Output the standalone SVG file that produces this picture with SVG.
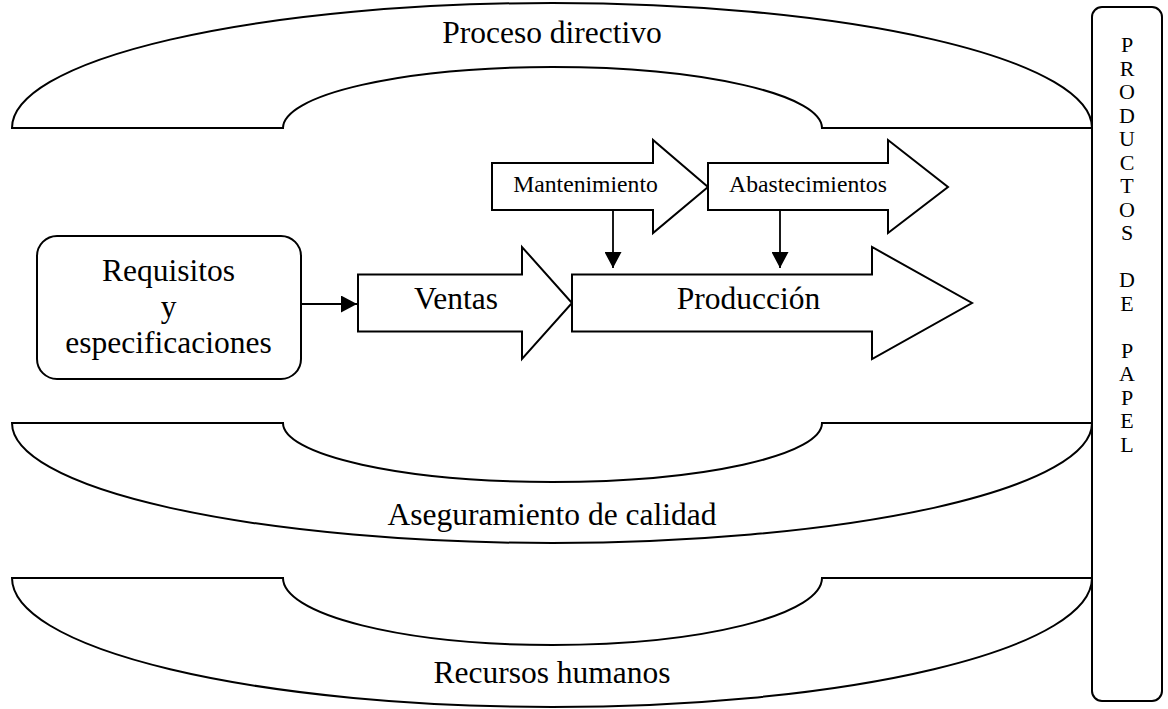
<svg xmlns="http://www.w3.org/2000/svg" width="1168" height="709" viewBox="0 0 1168 709">
<defs>
<style>
.s{fill:#fff;stroke:#000;stroke-width:2}
.t{fill:#000;text-anchor:middle}
.big{font-size:31.5px}
.mid{font-size:23.7px}
.let{font-size:22px}
.c{stroke:#000;stroke-width:1.8;fill:none}
</style>
<marker id="ah" markerUnits="userSpaceOnUse" markerWidth="17" markerHeight="17" viewBox="0 0 17 17" refX="16" refY="8.5" orient="auto">
<path d="M0,0 L16,8.5 L0,17 Z" fill="#000"/>
</marker>
</defs>
<rect width="1168" height="709" fill="#fff"/>
<g font-family="Liberation Serif, Tinos, DejaVu Serif, serif">
<g id="proceso-directivo">
<path class="s" d="M12,128 A540,125 0 0 1 1092,128 L822,128 A269.5,61 0 0 0 283,128 Z"/>
<text class="t big" x="552" y="43">Proceso directivo</text>
</g>
<g id="aseguramiento-calidad">
<path class="s" d="M12,423 A540,120 0 0 0 1092,423 L822,423 A269.5,59 0 0 1 283,423 Z"/>
<text class="t big" x="552" y="525">Aseguramiento de calidad</text>
</g>
<g id="recursos-humanos">
<path class="s" d="M12,578 A540,129 0 0 0 1092,578 L822,578 A269.5,67 0 0 1 283,578 Z"/>
<text class="t big" x="552" y="683">Recursos humanos</text>
</g>
<g id="productos-de-papel">
<rect class="s" x="1092" y="7" width="70" height="694" rx="10" ry="10"/>
<g class="t let">
<text x="1127" y="52">P</text>
<text x="1127" y="75.5">R</text>
<text x="1127" y="99">O</text>
<text x="1127" y="122.5">D</text>
<text x="1127" y="146">U</text>
<text x="1127" y="169.5">C</text>
<text x="1127" y="193">T</text>
<text x="1127" y="216.5">O</text>
<text x="1127" y="240">S</text>
<text x="1127" y="287">D</text>
<text x="1127" y="310.5">E</text>
<text x="1127" y="357.5">P</text>
<text x="1127" y="381">A</text>
<text x="1127" y="404.5">P</text>
<text x="1127" y="428">E</text>
<text x="1127" y="451.5">L</text>
</g>
</g>
<g id="requisitos">
<rect class="s" x="37" y="236" width="264" height="143" rx="20" ry="20"/>
<text class="t big" x="168.5" y="281">Requisitos</text>
<text class="t big" x="168.5" y="317">y</text>
<text class="t big" x="168.5" y="353">especificaciones</text>
</g>
<g id="ventas">
<path class="s" d="M358,274.5 L522,274.5 L522,247 L572,303 L522,359 L522,331.5 L358,331.5 Z"/>
<text class="t big" x="456" y="309">Ventas</text>
</g>
<g id="produccion">
<path class="s" d="M572,274.5 L872,274.5 L872,247 L972,303 L872,359 L872,331.5 L572,331.5 Z"/>
<text class="t big" x="748.5" y="309">Producción</text>
</g>
<g id="mantenimiento">
<path class="s" d="M492,163 L653,163 L653,140 L708,187 L653,233 L653,210 L492,210 Z"/>
<text class="t mid" x="585.5" y="192">Mantenimiento</text>
</g>
<g id="abastecimientos">
<path class="s" d="M708,163 L888,163 L888,140 L948,187 L888,233 L888,210 L708,210 Z"/>
<text class="t mid" x="808" y="192">Abastecimientos</text>
</g>
</g>
<g id="connectors">
<line class="c" x1="301" y1="304" x2="357" y2="304" marker-end="url(#ah)"/>
<line class="c" x1="613" y1="210" x2="613" y2="268" marker-end="url(#ah)"/>
<line class="c" x1="780" y1="210" x2="780" y2="268" marker-end="url(#ah)"/>
</g>
</svg>
